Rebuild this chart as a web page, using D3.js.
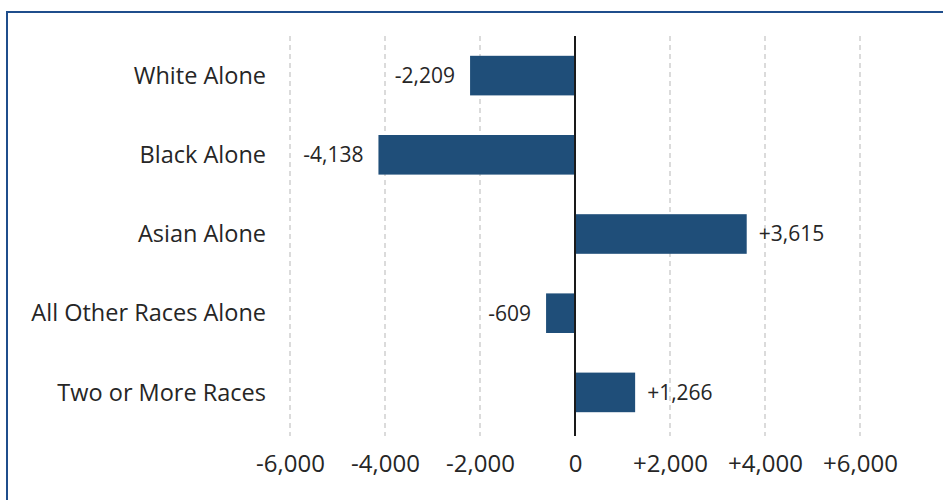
<!DOCTYPE html>
<html lang="en">
<head>
    <meta charset="UTF-8">
    <title>Change by Race</title>
    <script src="https://d3js.org/d3.v7.min.js"></script>
    <style>
        body { margin: 0; background: #fff; }
        .cat { font: 23.5px "Open Sans", sans-serif; fill: #262626; }
        .val { font: 21px "Open Sans", sans-serif; fill: #262626; }
        .tick text { font: 24px "Open Sans", sans-serif; fill: #262626; }
    </style>
</head>
<body>
<svg id="chart" width="943" height="500"></svg>
<script>
    const categories = ["White Alone", "Black Alone", "Asian Alone", "All Other Races Alone", "Two or More Races"];
    const values = [-2209, -4138, 3615, -609, 1266];
    const tickValues = [-6000, -4000, -2000, 0, 2000, 4000, 6000];
    const tickLabels = ["-6,000", "-4,000", "-2,000", "0", "+2,000", "+4,000", "+6,000"];

    const svg = d3.select("#chart");

    // рамка (справа и снизу уходит за край)
    svg.append("rect")
        .attr("x", 7).attr("y", 12)
        .attr("width", 960).attr("height", 520)
        .attr("fill", "none")
        .attr("stroke", "#1f4e8c")
        .attr("stroke-width", 2);

    const x = d3.scaleLinear().domain([-6000, 6000]).range([290, 860]);
    const y = d3.scaleBand().domain(categories).range([36, 432])
        .paddingInner(0.5).paddingOuter(0.25);

    // сетка
    svg.selectAll(".grid")
        .data(tickValues.filter(v => v !== 0))
        .join("line")
        .attr("class", "grid")
        .attr("x1", d => x(d)).attr("x2", d => x(d))
        .attr("y1", 36).attr("y2", 436)
        .attr("stroke", "#c8c8c8")
        .attr("stroke-width", 1.3)
        .attr("stroke-dasharray", "5,4");

    // ось X (подписи)
    const fmt = d3.format(",");
    const axis = svg.append("g")
        .attr("transform", "translate(0,436)")
        .call(d3.axisBottom(x)
            .tickValues(tickValues)
            .tickSize(0)
            .tickPadding(19)
            .tickFormat((d, i) => tickLabels[i]));
    axis.select(".domain").remove();

    // бары
    svg.selectAll(".bar")
        .data(values)
        .join("rect")
        .attr("class", "bar")
        .attr("x", d => x(Math.min(0, d)))
        .attr("y", (d, i) => y(categories[i]))
        .attr("width", d => Math.abs(x(d) - x(0)))
        .attr("height", y.bandwidth())
        .attr("fill", "#1f4e79");

    // подписи значений
    svg.selectAll(".val")
        .data(values)
        .join("text")
        .attr("class", "val")
        .attr("x", d => d < 0 ? x(d) - 15 : x(d) + 12)
        .attr("y", (d, i) => y(categories[i]) + y.bandwidth() / 2)
        .attr("dy", "0.35em")
        .attr("text-anchor", d => d < 0 ? "end" : "start")
        .text(d => (d > 0 ? "+" : "") + fmt(d).replace("\u2212", "-"));

    // нулевая линия
    svg.append("line")
        .attr("x1", x(0)).attr("x2", x(0))
        .attr("y1", 36).attr("y2", 436)
        .attr("stroke", "#1a1a1a")
        .attr("stroke-width", 2);

    // категории
    svg.selectAll(".cat")
        .data(categories)
        .join("text")
        .attr("class", "cat")
        .attr("x", 266)
        .attr("y", d => y(d) + y.bandwidth() / 2)
        .attr("dy", "0.35em")
        .attr("text-anchor", "end")
        .text(d => d);
</script>
</body>
</html>
